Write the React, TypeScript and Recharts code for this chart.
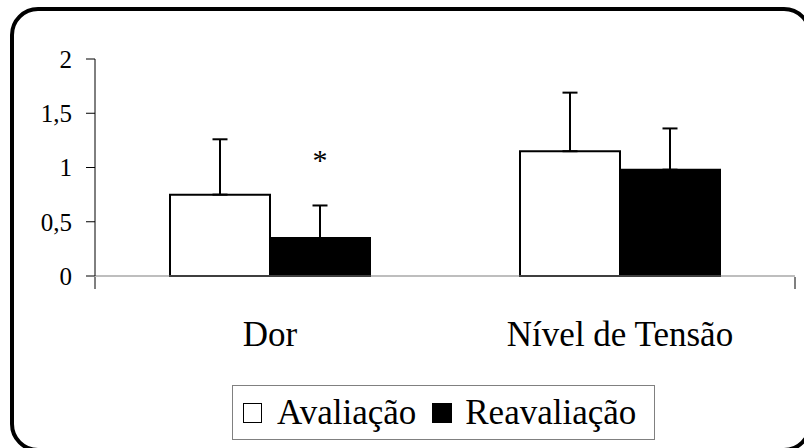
import React from "react";
import {
  BarChart,
  Bar,
  XAxis,
  YAxis,
  ErrorBar,
  LabelList,
} from "recharts";

const categories = ["Dor", "Nível de Tensão"];
const avaliacao = [0.75, 1.15];
const avaliacaoSd = [0.51, 0.54];
const reavaliacao = [0.35, 0.98];
const reavaliacaoSd = [0.3, 0.38];
const significance = ["*", ""];
const seriesNames = ["Avaliação", "Reavaliação"];
const yTicks = [0, 0.5, 1, 1.5, 2];
const categoryEdges = [0, 1, 2];

const FONT = "Liberation Serif";

const data = categories.map((name, i) => ({
  name,
  av: avaliacao[i],
  avErr: [0, avaliacaoSd[i]],
  re: reavaliacao[i],
  reErr: [0, reavaliacaoSd[i]],
  sig: significance[i],
}));

function LegendBox() {
  return (
    <div
      style={{
        position: "absolute",
        left: 232,
        top: 385,
        width: 423,
        height: 55,
        boxSizing: "border-box",
        border: "1px solid #808080",
        display: "flex",
        alignItems: "center",
        paddingLeft: 10,
        fontFamily: FONT,
        fontSize: 35,
        color: "#000",
        background: "#fff",
      }}
    >
      <span
        style={{
          width: 19,
          height: 20,
          boxSizing: "border-box",
          border: "1.5px solid #000",
          background: "#fff",
          marginRight: 15,
        }}
      />
      <span style={{ marginRight: 16, lineHeight: 1 }}>{seriesNames[0]}</span>
      <span style={{ width: 20, height: 20, background: "#000", marginRight: 13 }} />
      <span style={{ lineHeight: 1 }}>{seriesNames[1]}</span>
    </div>
  );
}

export default function App() {
  return (
    <div
      style={{
        position: "absolute",
        left: 0,
        top: 0,
        width: 804,
        height: 448,
        overflow: "hidden",
        background: "#fff",
        fontFamily: FONT,
      }}
    >
      {/* rounded outer frame, partly cut off at right and bottom */}
      <div
        style={{
          position: "absolute",
          left: 10,
          top: 7,
          width: 802,
          height: 445,
          boxSizing: "border-box",
          border: "4px solid #000",
          borderRadius: 28,
        }}
      />
      <BarChart
        width={804}
        height={448}
        data={data}
        barGap={0}
        margin={{ top: 59, right: 9, left: 0, bottom: 170 }}
        style={{ position: "absolute", left: 0, top: 0, fontFamily: FONT }}
      >
        <XAxis
          dataKey="name"
          height={1}
          axisLine={{ stroke: "#7f7f7f", strokeWidth: 1.2 }}
          tickLine={false}
          tickSize={0}
          tickMargin={45}
          tick={{ fontSize: 35, fill: "#000", fontFamily: FONT }}
        />
        {/* boundary ticks between categories */}
        <XAxis
          xAxisId="edges"
          type="number"
          domain={[0, 2]}
          ticks={categoryEdges}
          interval={0}
          height={1}
          axisLine={false}
          tickFormatter={() => ""}
          tickSize={12}
          tickLine={{ stroke: "#000", strokeWidth: 1 }}
        />
        <YAxis
          width={95}
          domain={[0, 2]}
          ticks={yTicks}
          interval={0}
          tickSize={9}
          tickMargin={14}
          axisLine={{ stroke: "#000", strokeWidth: 1 }}
          tickLine={{ stroke: "#000", strokeWidth: 1 }}
          tickFormatter={(v: number) => String(v).replace(".", ",")}
          tick={{ fontSize: 25, fill: "#000", fontFamily: FONT }}
        />
        <Bar
          dataKey="av"
          name={seriesNames[0]}
          fill="#fff"
          stroke="#000"
          strokeWidth={2}
          barSize={100}
          isAnimationActive={false}
        >
          <ErrorBar dataKey="avErr" width={7.5} stroke="#000" strokeWidth={2} direction="y" />
        </Bar>
        <Bar
          dataKey="re"
          name={seriesNames[1]}
          fill="#000"
          stroke="#000"
          strokeWidth={2}
          barSize={100}
          isAnimationActive={false}
        >
          <ErrorBar dataKey="reErr" width={7.5} stroke="#000" strokeWidth={2} direction="y" />
          <LabelList
            dataKey="sig"
            position="top"
            offset={68}
            style={{ fontSize: 30, fill: "#000", fontFamily: FONT }}
          />
        </Bar>
      </BarChart>
      <LegendBox />
    </div>
  );
}
